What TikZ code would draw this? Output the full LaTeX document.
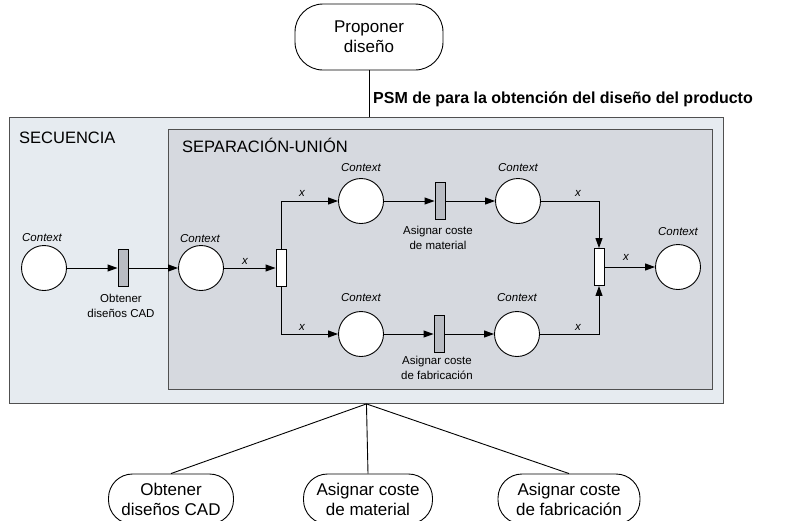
\documentclass[tikz,border=0pt]{standalone}
\usepackage{fontspec}
\setmainfont{Liberation Sans}
\usetikzlibrary{arrows.meta}
\definecolor{outerfill}{HTML}{E6EBF0}
\definecolor{innerfill}{HTML}{D6D9DF}
\definecolor{boxline}{HTML}{505050}
\definecolor{transfill}{HTML}{B9BCC3}
\begin{document}
\begin{tikzpicture}[x=1pt,y=-1pt,
  place/.style={circle,draw,fill=white,minimum size=45pt,inner sep=0pt,line width=0.9pt},
  trgray/.style={rectangle,draw,fill=transfill,minimum width=10pt,minimum height=37pt,inner sep=0pt,line width=0.9pt},
  trwhite/.style={trgray,fill=white},
  arc/.style={-{Triangle[length=10pt,width=7pt]},line width=0.9pt},
  ctx/.style={font=\fontsize{11.5}{13}\selectfont\itshape,anchor=base,inner sep=0pt},
  xl/.style={font=\fontsize{11.5}{13}\selectfont\itshape,inner sep=0pt},
  lbl/.style={font=\fontsize{11.5}{15.5}\selectfont,align=center,inner sep=0pt},
  task/.style={draw,rectangle,rounded corners=24pt,fill=white,line width=0.9pt,align=center,
    font=\fontsize{17}{20}\selectfont,inner sep=0pt},
  tree/.style={line width=0.9pt}
]
\useasboundingbox (0,0) rectangle (787,520);

% top task
\node[task,minimum width=148pt,minimum height=66pt,rounded corners=28pt] (prop) at (369,37) {Proponer\\diseño};

% containers
\node[draw=boxline,fill=outerfill,line width=0.9pt,minimum width=714pt,minimum height=286pt,
      anchor=north west,inner sep=0pt] (outer) at (9,117) {};
\node[draw=boxline,fill=innerfill,line width=0.9pt,minimum width=544pt,minimum height=260pt,
      anchor=north west,inner sep=0pt] (inner) at (168,129) {};
\node[font=\fontsize{16.5}{18}\selectfont,anchor=base west,inner sep=0pt] (tsec) at (19,143) {SECUENCIA};
\node[font=\fontsize{16.5}{18}\selectfont,anchor=base west,inner sep=0pt] (tsep) at (182,152) {SEPARACIÓN-UNIÓN};

\node[font=\bfseries\fontsize{16}{18}\selectfont,anchor=base west,inner sep=0pt] (psm) at (373,103)
  {PSM de para la obtención del diseño del producto};
\draw[tree] (prop.south) -- (prop.south |- outer.north);

% places
\node[place] (p1) at (44,268) {};
\node[place] (p2) at (201,268) {};
\node[place] (p3) at (361,201) {};
\node[place] (p4) at (361,334) {};
\node[place] (p5) at (518,201) {};
\node[place] (p6) at (517,334) {};
\node[place] (p7) at (678,267) {};

% transitions
\node[trgray] (t1) at (123,268) {};
\node[trwhite] (t2) at (281,268) {};
\node[trgray] (t3) at (440,201) {};
\node[trgray] (t4) at (439,334) {};
\node[trwhite] (t5) at (599,267) {};

% context labels
\node[ctx] (c1) at (42,241) {Context};
\node[ctx] (c2) at (200,242) {Context};
\node[ctx] (c3) at (361,171) {Context};
\node[ctx] (c4) at (361,301) {Context};
\node[ctx] (c5) at (518,171) {Context};
\node[ctx] (c6) at (517,301) {Context};
\node[ctx] (c7) at (678,235) {Context};

% transition labels
\node[lbl] (l1) at (121,306) {Obtener\\diseños CAD};
\node[lbl] (l3) at (438,238) {Asignar coste\\de material};
\node[lbl] (l4) at (437,368) {Asignar coste\\de fabricación};

% arcs
\draw[arc] (p1) -- (t1);
\draw[arc] (t1) -- (p2);
\draw[arc] (p2) -- (t2);
\draw[arc] (t2.north) |- (p3);
\draw[arc] (t2.south) |- (p4);
\draw[arc] (p3) -- (t3);
\draw[arc] (t3) -- (p5);
\draw[arc] (p4) -- (t4);
\draw[arc] (t4) -- (p6);
\draw[arc] (p5) -| (t5.north);
\draw[arc] (p6) -| (t5.south);
\draw[arc] (t5) -- (p7);

% x labels
\node[xl] (x1) at (245,261) {x};
\node[xl] (x2) at (302,193) {x};
\node[xl] (x3) at (302,327) {x};
\node[xl] (x4) at (578,193) {x};
\node[xl] (x5) at (578,327) {x};
\node[xl] (x6) at (626,257) {x};

% bottom tasks
\begin{scope}
\clip (0,0) rectangle (787,520);
\node[task,minimum width=125pt,minimum height=50pt] (b1) at (171,499) {Obtener\\diseños CAD};
\node[task,minimum width=129pt,minimum height=50pt] (b2) at (368,499) {Asignar coste\\de material};
\node[task,minimum width=142pt,minimum height=50pt] (b3) at (569,499) {Asignar coste\\de fabricación};
\end{scope}
\draw[tree] (outer.south) -- (b1.north);
\draw[tree] (outer.south) -- (b2.north);
\draw[tree] (outer.south) -- (b3.north);
\end{tikzpicture}
\end{document}
